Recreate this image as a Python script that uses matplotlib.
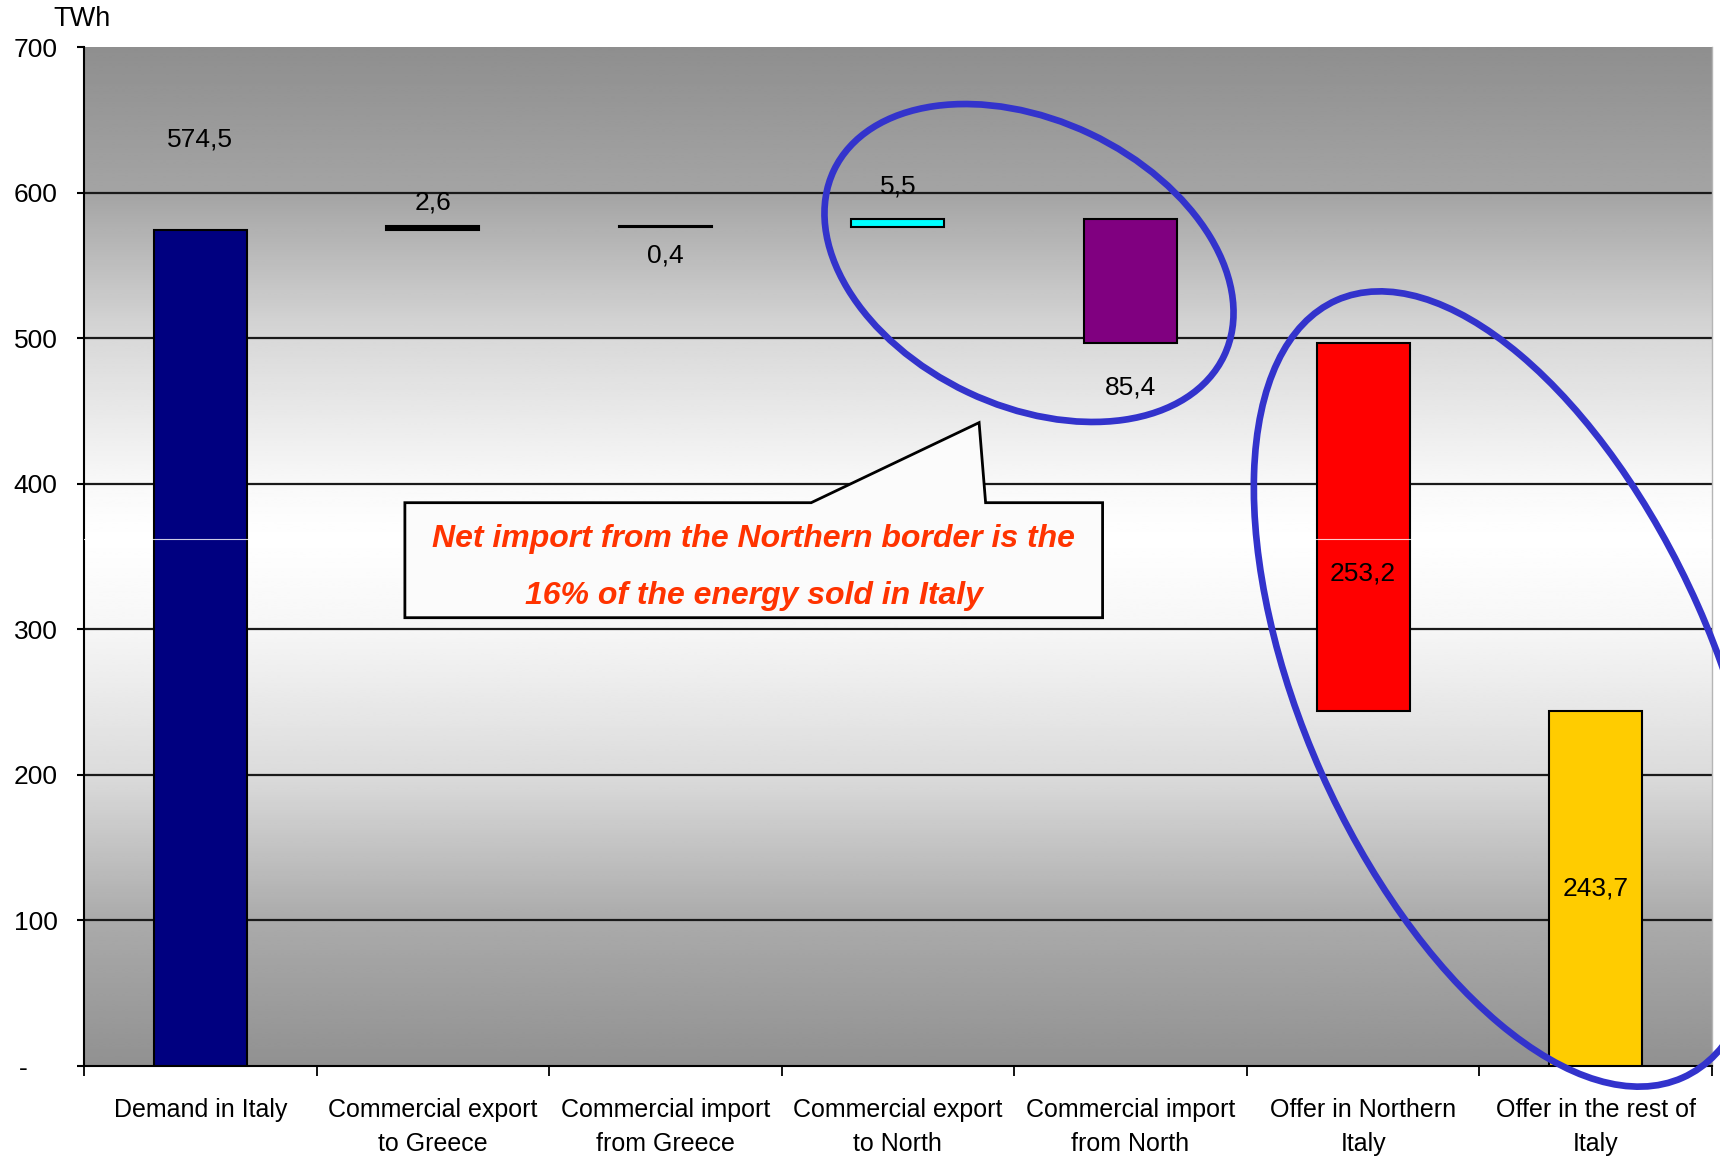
"""
Waterfall of the Italian energy balance (TWh) with callout and highlight ellipses.
"""
import matplotlib
matplotlib.use("Agg")

import matplotlib.pyplot as plt
import numpy as np
from matplotlib.patches import Ellipse, Polygon

# Datos
categories = ["Demand in Italy", "Commercial export\nto Greece", "Commercial import\nfrom Greece",
              "Commercial export\nto North", "Commercial import\nfrom North", "Offer in Northern\nItaly",
              "Offer in the rest of\nItaly"]
values = [574.5, 2.6, 0.4, 5.5, 85.4, 253.2, 243.7]
signs = [1, 1, -1, 1, -1, -1, -1]
value_labels = ["574,5", "2,6", "0,4", "5,5", "85,4", "253,2", "243,7"]
bar_colors = ["#000080", "#000000", "#000000", "#00ffff", "#800080", "#ff0000", "#ffcc00"]
yticks = [0, 100, 200, 300, 400, 500, 600, 700]
ytick_labels = ["-    ", "100", "200", "300", "400", "500", "600", "700"]
callout_text = "Net import from the Northern border is the\n16% of the energy sold in Italy"

# Layout de etiquetas (desplazamiento en TWh respecto al extremo de la barra)
label_offsets = [62, 16, -20, 22, -31, None, None]

plt.rcParams["font.family"] = ["Liberation Sans", "DejaVu Sans"]

fig = plt.figure(figsize=(17.2, 11.59), dpi=100)
ax = fig.add_axes([0.0488, 0.0802, 0.9465, 0.8792])

# Fondo con degradado vertical
grad_y = [0, 100, 200, 300, 362, 400, 500, 600, 700]
grad_v = [0.57, 0.67, 0.86, 0.965, 1.0, 0.975, 0.85, 0.645, 0.56]
yy = np.linspace(0, 700, 400)
gg = np.interp(yy, grad_y, grad_v)
ax.imshow(np.repeat(gg[:, None], 2, axis=1), cmap="gray", vmin=0, vmax=1, origin="lower",
          extent=[-0.5, 6.5, 0, 700], aspect="auto", zorder=0, interpolation="bilinear")

# Cascada
bottoms = []
level = 0.0
for i, (v, s) in enumerate(zip(values, signs)):
    if i == 0:
        bottoms.append(0.0)
        level = v
    elif s > 0:
        bottoms.append(level)
        level += v
    else:
        level -= v
        bottoms.append(level)

x = np.arange(len(categories))
ax.bar(x, values, bottom=bottoms, width=0.4, color=bar_colors, edgecolor="black",
       linewidth=1.5, zorder=3)

# Etiquetas de valores
for i, (v, b, lab, off) in enumerate(zip(values, bottoms, value_labels, label_offsets)):
    if off is None:
        y = b + v / 2 - 32 if i == 5 else b + v / 2
    elif off > 0:
        y = b + v + off
    else:
        y = b + off
    ax.text(x[i], y, lab, ha="center", va="center", fontsize=19, color="black", zorder=5)

# Rejilla
for yv in yticks[1:-1]:
    ax.axhline(yv, color="#1a1a1a", lw=1.6, zorder=1)
ax.axhline(362, color="white", lw=0.8, alpha=0.8, zorder=4)

ax.set_xlim(-0.5, 6.5)
ax.set_ylim(0, 700)
ax.set_yticks(yticks)
ax.set_yticklabels(ytick_labels, fontsize=19)
ax.set_xticks(x)
ax.set_xticklabels(categories, fontsize=18, linespacing=1.55)
ax.set_xticks(np.arange(-0.5, 7, 1), minor=True)
ax.tick_params(axis="x", which="major", length=0, pad=23)
ax.tick_params(axis="x", which="minor", length=7, width=1.3, direction="out")
ax.tick_params(axis="y", length=5, width=1.5, pad=14)

ax.spines["top"].set_visible(False)
ax.spines["right"].set_color("#b5b5b5")
ax.spines["right"].set_linewidth(1)
ax.spines["left"].set_linewidth(1.5)
ax.spines["bottom"].set_linewidth(1.5)

fig.text(0.031, 0.984, "TWh", fontsize=19.5, ha="left", va="center")

# Globo de texto
box = Polygon([(0.88, 387), (2.627, 387), (3.349, 442), (3.377, 387), (3.88, 387),
               (3.88, 308), (0.88, 308)], closed=True, facecolor="#fbfbfb",
              edgecolor="black", lw=2, zorder=6)
ax.add_patch(box)
ax.text(2.38, 342.5, callout_text, ha="center", va="center", fontsize=23, color="#ff3300",
        fontweight="bold", fontstyle="italic", linespacing=2.2, zorder=7)

# Elipses de resalte (en pulgadas de la figura)
e1 = Ellipse((10.29, 8.96), 4.32, 2.86, angle=-25.4, transform=fig.dpi_scale_trans,
             fill=False, edgecolor="#3333cc", lw=4.8, zorder=10)
e2 = Ellipse((15.095, 4.70), 8.51, 4.12, angle=-66, transform=fig.dpi_scale_trans,
             fill=False, edgecolor="#3333cc", lw=4.8, zorder=10)
fig.add_artist(e1)
fig.add_artist(e2)

fig.savefig("out.png", dpi=100)
